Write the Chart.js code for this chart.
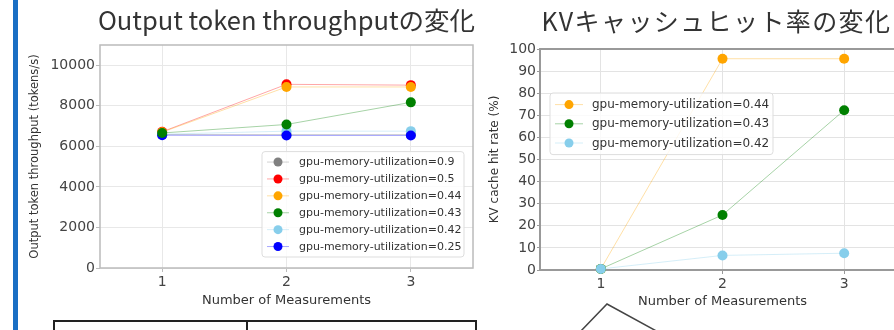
<!DOCTYPE html>
<html>
<head>
<meta charset="utf-8">
<script src="https://cdn.jsdelivr.net/npm/chart.js@4.4.1/dist/chart.umd.min.js"></script>
<style>
  html, body { margin: 0; padding: 0; background: #fff; overflow: hidden; }
  body { position: relative; width: 894px; height: 330px; }
  .accent { position: absolute; left: 13px; top: 0; width: 5px; height: 330px; background: #1a6fc4; }
  .chart { position: absolute; top: 0; height: 315px; }
  #tputBox { left: 20px; width: 460px; }
  #hitBox { left: 480px; width: 430px; }
  .table { position: absolute; left: 53px; top: 320px; width: 420px; height: 30px; border: 2px solid #222; }
  .table .split { position: absolute; left: 191px; top: 0; bottom: 0; border-left: 2px solid #222; }
  svg.callout { position: absolute; left: 0; top: 0; }
</style>
</head>
<body>
<div class="accent"></div>
<div class="chart" id="tputBox"><canvas id="tput"></canvas></div>
<div class="chart" id="hitBox"><canvas id="hit"></canvas></div>
<div class="table"><div class="split"></div></div>
<svg class="callout" width="894" height="330"><polyline points="579,333 607,304 660,333" fill="none" stroke="#444" stroke-width="1.5"/></svg>
<script>
// measurement runs (x axis)
const measurements = ["1", "2", "3"];

// output token throughput (tokens/s)
const tputUtil090 = [6580, 6580, 6580];
const tputUtil050 = [6720, 9060, 9020];
const tputUtil044 = [6700, 8930, 8930];
const tputUtil043 = [6660, 7080, 8170];
const tputUtil042 = [6600, 6750, 6750];
const tputUtil025 = [6550, 6540, 6540];

// KV cache hit rate (%)
const hitUtil044 = [0.5, 95.6, 95.6];
const hitUtil043 = [0.5, 24.9, 72.3];
const hitUtil042 = [0.5, 6.6, 7.6];

const tputTicks = [0, 2000, 4000, 6000, 8000, 10000];

const colors = {
  gray: [128, 128, 128],
  red: [255, 0, 0],
  orange: [255, 165, 0],
  green: [0, 128, 0],
  sky: [135, 206, 235],
  blue: [0, 0, 255],
};
const rgba = (c, a) => `rgba(${c[0]},${c[1]},${c[2]},${a})`;

// z: lower number is drawn on top
function series(label, data, c, z) {
  return {
    label,
    data,
    borderColor: rgba(c, 0.35),
    backgroundColor: rgba(c, 1),
    pointBackgroundColor: rgba(c, 1),
    pointBorderWidth: 0,
    pointRadius: 5,
    pointHoverRadius: 5,
    borderWidth: 1,
    tension: 0,
    clip: false,
    order: z,
  };
}

const plotFrame = {
  id: "plotFrame",
  beforeDatasetsDraw(chart, args, opts) {
    const { ctx, chartArea: a } = chart;
    ctx.save();
    ctx.strokeStyle = opts.color;
    ctx.lineWidth = opts.width;
    ctx.strokeRect(a.left, a.top, a.right - a.left, a.bottom - a.top);
    ctx.restore();
  },
};

const areaTitle = {
  id: "areaTitle",
  afterDraw(chart, args, opts) {
    const { ctx, chartArea: a } = chart;
    ctx.save();
    ctx.font = opts.font;
    ctx.letterSpacing = opts.spacing || "0px";
    ctx.fillStyle = opts.color;
    ctx.textAlign = "center";
    ctx.textBaseline = "alphabetic";
    ctx.fillText(opts.text, (a.left + a.right) / 2 + (opts.dx || 0), opts.baseline);
    ctx.restore();
  },
};

// matplotlib-like legend box inside the plot area
const boxLegend = {
  id: "boxLegend",
  afterDraw(chart, args, opts) {
    const { ctx, chartArea: a } = chart;
    const sets = chart.data.datasets;
    const h = opts.pad * 2 + opts.rowH * sets.length;
    const left = opts.right != null ? a.right - opts.right - opts.width : a.left + opts.left;
    const top = opts.bottom != null ? a.bottom - opts.bottom - h : a.top + opts.top;
    ctx.save();
    ctx.beginPath();
    ctx.roundRect(left, top, opts.width, h, 3);
    ctx.fillStyle = "rgba(255,255,255,0.8)";
    ctx.fill();
    ctx.strokeStyle = "#dddddd";
    ctx.lineWidth = 1;
    ctx.stroke();
    ctx.font = opts.font;
    ctx.textBaseline = "middle";
    sets.forEach((d, i) => {
      const y = top + opts.pad + opts.rowH * (i + 0.5);
      const mx = left + opts.markerX;
      ctx.strokeStyle = d.borderColor;
      ctx.beginPath();
      ctx.moveTo(mx - opts.lineHalf, y);
      ctx.lineTo(mx + opts.lineHalf, y);
      ctx.stroke();
      ctx.fillStyle = d.backgroundColor;
      ctx.beginPath();
      ctx.arc(mx, y, opts.dot, 0, Math.PI * 2);
      ctx.fill();
      ctx.fillStyle = "#333";
      ctx.fillText(d.label, left + opts.textX, y + 0.5);
    });
    ctx.restore();
  },
};

const tickFont = { family: "DejaVu Sans", size: 14 };
const labelFont = { family: "DejaVu Sans", size: 13 };
const plainTick = (v) => String(v);

const tputSets = [
  series("gpu-memory-utilization=0.9", tputUtil090, colors.gray, 6),
  series("gpu-memory-utilization=0.5", tputUtil050, colors.red, 5),
  series("gpu-memory-utilization=0.44", tputUtil044, colors.orange, 4),
  series("gpu-memory-utilization=0.43", tputUtil043, colors.green, 1),
  series("gpu-memory-utilization=0.42", tputUtil042, colors.sky, 3),
  series("gpu-memory-utilization=0.25", tputUtil025, colors.blue, 2),
];

new Chart(document.getElementById("tput"), {
  type: "line",
  data: { labels: measurements, datasets: tputSets },
  plugins: [plotFrame, areaTitle, boxLegend],
  options: {
    responsive: true,
    maintainAspectRatio: false,
    animation: false,
    layout: { padding: { left: 0, right: 7, top: 45, bottom: 0 } },
    plugins: {
      legend: { display: false },
      tooltip: { enabled: false },
      plotFrame: { color: "#bbbbbb", width: 1.5 },
      areaTitle: { text: "Output token throughputの変化", font: "25.5px 'Noto Sans CJK JP'", color: "#333", baseline: 30 },
      boxLegend: { right: 9, bottom: 11, width: 202, rowH: 16.9, pad: 2, markerX: 16, lineHalf: 11, dot: 4.5, textX: 37, font: "11px 'DejaVu Sans'" },
    },
    scales: {
      x: {
        type: "category",
        offset: true,
        border: { display: false },
        grid: { color: "#e8e8e8", tickColor: "#bbbbbb", tickLength: 4, offset: false },
        ticks: { font: tickFont, color: "#444", padding: 2 },
        title: { display: true, text: "Number of Measurements", font: labelFont, color: "#333", padding: { top: 0, bottom: 7 } },
        afterFit(s) { s.height = 47; },
      },
      y: {
        min: 0,
        max: 11000,
        border: { display: false },
        grid: { color: "#e8e8e8", tickColor: "#bbbbbb", tickLength: 4 },
        ticks: { font: tickFont, color: "#444", padding: 1, callback: plainTick },
        afterBuildTicks(s) { s.ticks = tputTicks.map(v => ({ value: v })); },
        title: { display: true, text: "Output token throughput (tokens/s)", font: { family: "DejaVu Sans", size: 11.5 }, color: "#333", padding: { top: 8, bottom: 0 } },
        afterFit(s) { s.width = 80; },
      },
    },
  },
});

const hitSets = [
  series("gpu-memory-utilization=0.44", hitUtil044, colors.orange, 3),
  series("gpu-memory-utilization=0.43", hitUtil043, colors.green, 2),
  series("gpu-memory-utilization=0.42", hitUtil042, colors.sky, 1),
];

new Chart(document.getElementById("hit"), {
  type: "line",
  data: { labels: measurements, datasets: hitSets },
  plugins: [plotFrame, areaTitle, boxLegend],
  options: {
    responsive: true,
    maintainAspectRatio: false,
    animation: false,
    layout: { padding: { left: 0, right: 1, top: 49, bottom: 0 } },
    plugins: {
      legend: { display: false },
      tooltip: { enabled: false },
      plotFrame: { color: "#999999", width: 2 },
      areaTitle: { text: "KVキャッシュヒット率の変化", font: "25px 'Noto Sans CJK JP'", spacing: "1.4px", color: "#333", baseline: 31, dx: -6 },
      boxLegend: { left: 10, top: 44, width: 223, rowH: 19.2, pad: 2, markerX: 19, lineHalf: 14, dot: 4.5, textX: 42, font: "12px 'DejaVu Sans'" },
    },
    scales: {
      x: {
        type: "category",
        offset: true,
        border: { display: false },
        grid: { color: "#e3e3e3", tickColor: "#999999", tickLength: 4, offset: false },
        ticks: { font: tickFont, color: "#444", padding: 2 },
        title: { display: true, text: "Number of Measurements", font: labelFont, color: "#333", padding: { top: 0, bottom: 6 } },
        afterFit(s) { s.height = 45; },
      },
      y: {
        min: 0,
        max: 100,
        border: { display: false },
        grid: { color: "#e3e3e3", tickColor: "#999999", tickLength: 3 },
        ticks: { font: tickFont, color: "#444", padding: 1, stepSize: 10, callback: plainTick },
        title: { display: true, text: "KV cache hit rate (%)", font: { family: "DejaVu Sans", size: 12 }, color: "#333", padding: { top: 8, bottom: 0 } },
        afterFit(s) { s.width = 60; },
      },
    },
  },
});
</script>
</body>
</html>
